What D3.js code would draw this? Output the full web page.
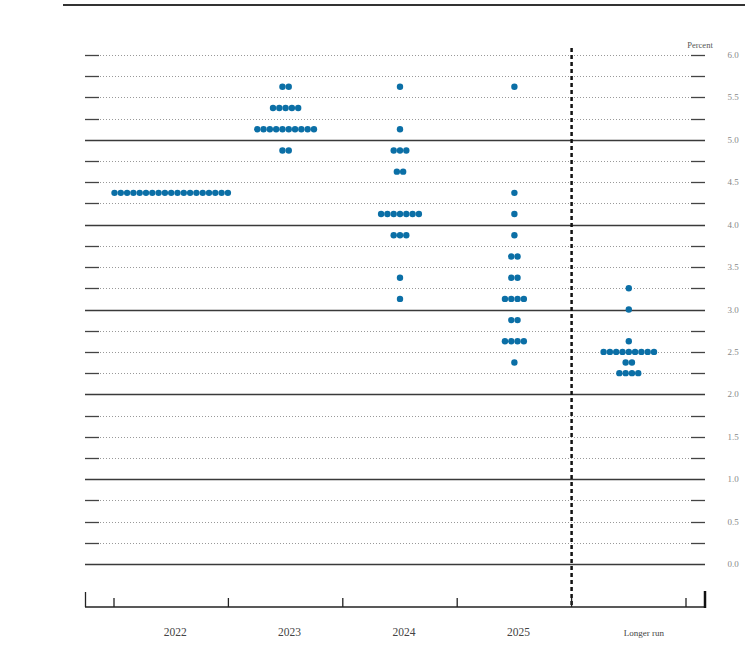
<!DOCTYPE html>
<html>
<head>
<meta charset="utf-8">
<script src="https://cdn.jsdelivr.net/npm/d3@7"></script>
<style>
  body { margin: 0; background: #fff; }
  svg { display: block; }
</style>
</head>
<body>
<div id="chart"></div>
<script>
// categories along the bottom
const categories = ["2022", "2023", "2024", "2025", "Longer run"];

// [midpoint of target range, number of participants]
const dots2022 = [[4.375, 19]];
const dots2023 = [[5.625, 2], [5.375, 5], [5.125, 10], [4.875, 2]];
const dots2024 = [[5.625, 1], [5.125, 1], [4.875, 3], [4.625, 2], [4.125, 7], [3.875, 3], [3.375, 1], [3.125, 1]];
const dots2025 = [[5.625, 1], [4.375, 1], [4.125, 1], [3.875, 1], [3.625, 2], [3.375, 2], [3.125, 4], [2.875, 2], [2.625, 4], [2.375, 1]];
const dotsLonger = [[3.25, 1], [3.0, 1], [2.625, 1], [2.5, 9], [2.375, 2], [2.25, 4]];

const yTickLabels = ["0.0", "0.5", "1.0", "1.5", "2.0", "2.5", "3.0", "3.5", "4.0", "4.5", "5.0", "5.5", "6.0"];

const allDots = [dots2022, dots2023, dots2024, dots2025, dotsLonger];

let width = 752, height = 650;
let left = 85, right = 705;

let svg = d3.select('#chart').append('svg')
  .attr('width', width)
  .attr('height', height);

let y = d3.scaleLinear().domain([0, 6]).range([564, 55]);
let x = d3.scaleBand().domain(categories).range([114, 686]);

// top rule
svg.append('line')
  .attr('x1', 63).attr('x2', 745)
  .attr('y1', 5).attr('y2', 5)
  .attr('stroke', '#333').attr('stroke-width', 2);

// horizontal grid, every quarter point (whole numbers solid, except the top one)
let grid = d3.range(0, 6.01, 0.25);
let g = svg.append('g');
grid.forEach(function (v) {
  let yy = Math.round(y(v)) + 0.5;
  if (Math.abs(v - Math.round(v)) < 1e-6 && v < 5.9) {
    g.append('line')
      .attr('x1', left).attr('x2', right)
      .attr('y1', yy).attr('y2', yy)
      .attr('stroke', '#3a3a3a').attr('stroke-width', 1.3);
  } else {
    g.append('line')
      .attr('x1', left + 15).attr('x2', right - 15)
      .attr('y1', yy).attr('y2', yy)
      .attr('stroke', '#999').attr('stroke-width', 1)
      .attr('stroke-dasharray', '1,2');
    g.append('line')
      .attr('x1', left).attr('x2', left + 14)
      .attr('y1', yy).attr('y2', yy)
      .attr('stroke', '#444').attr('stroke-width', 1.3);
    g.append('line')
      .attr('x1', right - 14).attr('x2', right)
      .attr('y1', yy).attr('y2', yy)
      .attr('stroke', '#444').attr('stroke-width', 1.3);
  }
});

// right-hand tick labels
svg.append('g').selectAll('text')
  .data(yTickLabels)
  .enter().append('text')
  .attr('x', 733)
  .attr('y', function (d) { return y(+d) + 3; })
  .attr('text-anchor', 'middle')
  .style('font-family', 'Liberation Serif, serif')
  .style('font-size', '9px')
  .style('fill', '#888')
  .text(function (d) { return d; });

svg.append('text')
  .attr('x', 700).attr('y', 48)
  .attr('text-anchor', 'middle')
  .style('font-family', 'Liberation Serif, serif')
  .style('font-size', '8.5px')
  .style('fill', '#555')
  .text('Percent');

// separator before longer run
let sepX = x('Longer run');
svg.append('line')
  .attr('x1', sepX).attr('x2', sepX)
  .attr('y1', 48).attr('y2', 607)
  .attr('stroke', '#111').attr('stroke-width', 2.5)
  .attr('stroke-dasharray', '4,3');

// bottom axis
let axis = svg.append('g');
axis.append('line')
  .attr('x1', left).attr('x2', right)
  .attr('y1', 607).attr('y2', 607)
  .attr('stroke', '#222').attr('stroke-width', 1.3);
axis.append('line')
  .attr('x1', left + 0.5).attr('x2', left + 0.5)
  .attr('y1', 592).attr('y2', 607)
  .attr('stroke', '#222').attr('stroke-width', 1.3);
axis.append('line')
  .attr('x1', right).attr('x2', right)
  .attr('y1', 591).attr('y2', 608)
  .attr('stroke', '#111').attr('stroke-width', 2.5);
let edges = categories.map(function (c) { return x(c); }).concat([x.range()[1]]);
axis.selectAll('.tk')
  .data(edges)
  .enter().append('line')
  .attr('class', 'tk')
  .attr('x1', function (d) { return d; }).attr('x2', function (d) { return d; })
  .attr('y1', 598).attr('y2', 607)
  .attr('stroke', '#222').attr('stroke-width', 1.3);

axis.selectAll('.lbl')
  .data(categories)
  .enter().append('text')
  .attr('class', 'lbl')
  .attr('x', function (d) { return x(d) + x.bandwidth() / 2 + (d === 'Longer run' ? 15 : 4); })
  .attr('y', 636)
  .attr('text-anchor', 'middle')
  .style('font-family', 'Liberation Serif, serif')
  .style('font-size', function (d) { return d === 'Longer run' ? '9px' : '11.5px'; })
  .style('fill', '#444')
  .text(function (d) { return d; });

// dots
let step = 6.3;
let points = [];
categories.forEach(function (c, i) {
  allDots[i].forEach(function (d) {
    for (let k = 0; k < d[1]; k++) {
      points.push({
        cat: c,
        rate: d[0],
        off: (k - (d[1] - 1) / 2) * step
      });
    }
  });
});

svg.append('g').selectAll('circle')
  .data(points)
  .enter().append('circle')
  .attr('cx', function (d) { return x(d.cat) + x.bandwidth() / 2 + d.off; })
  .attr('cy', function (d) { return y(d.rate); })
  .attr('r', 3.2)
  .style('fill', '#0b6fa6');
</script>
</body>
</html>
